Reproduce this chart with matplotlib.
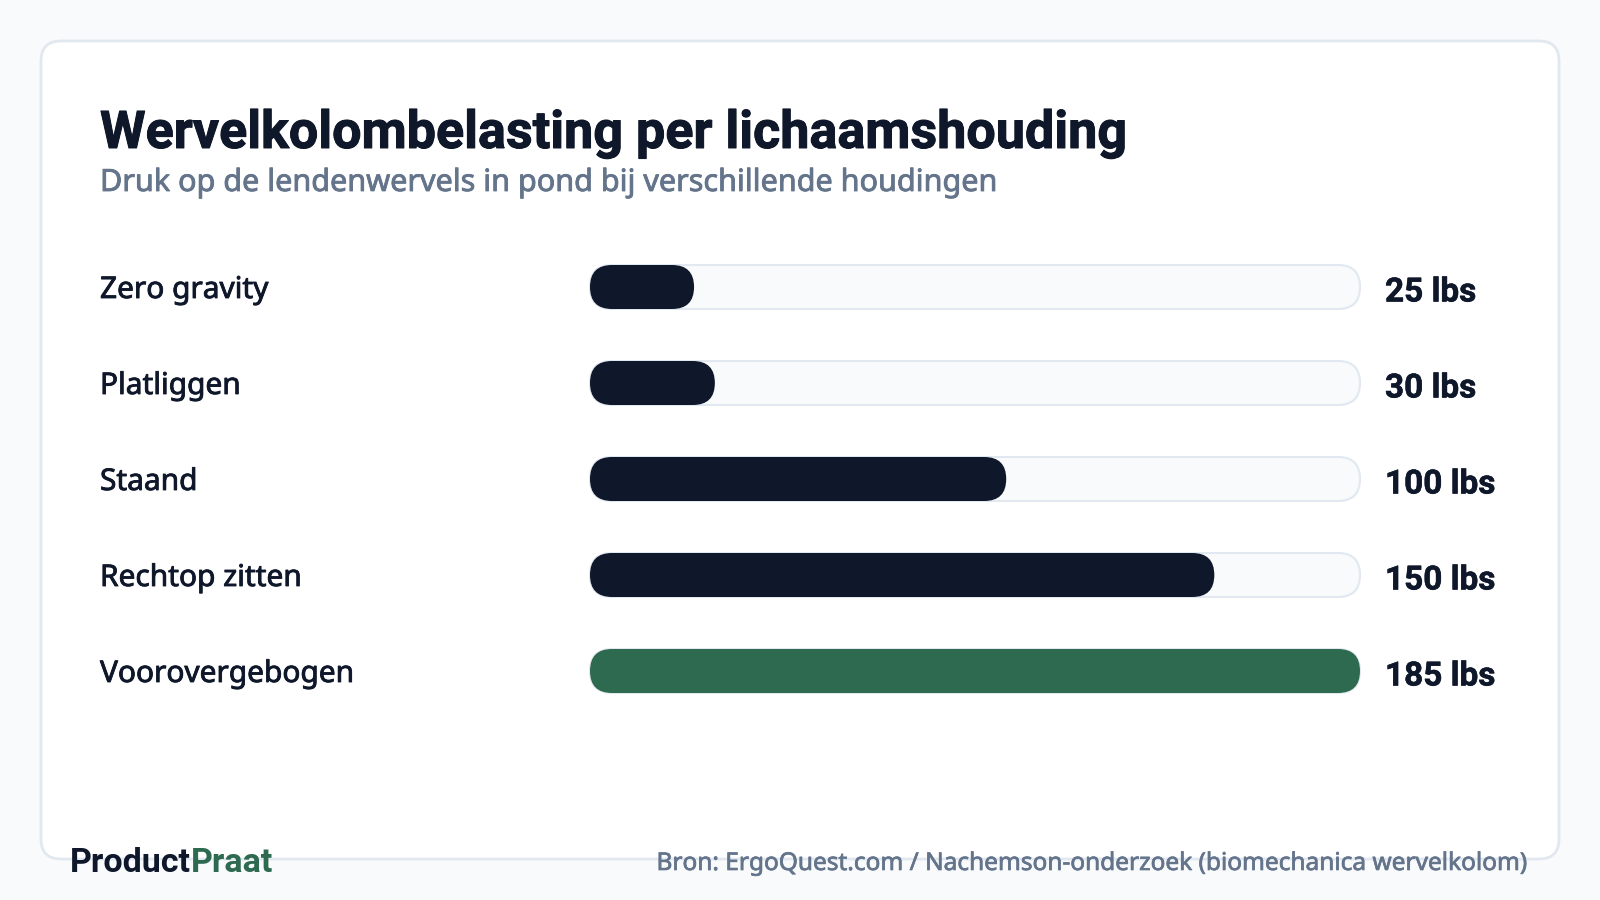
import matplotlib
matplotlib.use("Agg")
import matplotlib.pyplot as plt
from matplotlib.patches import FancyBboxPatch
from matplotlib import transforms
import matplotlib.patheffects as pe

# data
categories = ["Zero gravity", "Platliggen", "Staand", "Rechtop zitten", "Voorovergebogen"]
values = [25, 30, 100, 150, 185]
value_labels = ["25 lbs", "30 lbs", "100 lbs", "150 lbs", "185 lbs"]

title = "Wervelkolombelasting per lichaamshouding"
subtitle = "Druk op de lendenwervels in pond bij verschillende houdingen"
source = "Bron: ErgoQuest.com / Nachemson-onderzoek (biomechanica wervelkolom)"

DARK = "#0f172a"
GREEN = "#2d6a4f"
SLATE = "#64748b"
TRACK = "#f8fafc"
BORDER = "#e2e8f0"


def thick(color, w=0.5):
    # fake a medium weight, Noto Sans here only has regular / bold
    return [pe.withStroke(linewidth=w, foreground=color)]


W, H = 1600, 900
fig = plt.figure(figsize=(16, 9), dpi=100)
fig.patch.set_facecolor("#f8fafc")

# white card
card = FancyBboxPatch((41 / W, 41 / H), 1518 / W, 818 / H,
                      boxstyle="round,pad=0,rounding_size=0.0125",
                      mutation_aspect=W / H, transform=fig.transFigure,
                      facecolor="white", edgecolor=BORDER, linewidth=2, zorder=0)
fig.add_artist(card)

# bar axes
ax_left, ax_top, ax_w, ax_h = 590, 239, 770, 480
ax = fig.add_axes([ax_left / W, 1 - (ax_top + ax_h) / H, ax_w / W, ax_h / H])
ax.set_xlim(0, max(values))
ax.set_ylim(len(values) - 0.5, -0.5)
ax.axis("off")

bar_h = 44 / (ax_h / len(values))
px_x = ax_w / max(values)            # pixels per x unit
px_y = ax_h / len(values)            # pixels per y unit
radius = (bar_h * px_y / 2) / px_x   # in x units
aspect = px_x / px_y

for i, v in enumerate(values):
    track = FancyBboxPatch((0, i - bar_h / 2), max(values), bar_h,
                           boxstyle=f"round,pad=0,rounding_size={radius}",
                           mutation_aspect=aspect, facecolor=TRACK,
                           edgecolor=BORDER, linewidth=1.5, clip_on=False)
    ax.add_patch(track)
    color = GREEN if v == max(values) else DARK
    bar = FancyBboxPatch((0, i - bar_h / 2), v, bar_h,
                         boxstyle=f"round,pad=0,rounding_size={radius}",
                         mutation_aspect=aspect, facecolor=color,
                         edgecolor="none", clip_on=False)
    ax.add_patch(bar)

# labels sit on a baseline a little below the bar centre
lab_tr = transforms.blended_transform_factory(fig.transFigure, ax.transData)
cat_tr = transforms.offset_copy(lab_tr, fig=fig, y=-11, units="dots")
val_tr = transforms.offset_copy(lab_tr, fig=fig, y=-14.5, units="dots")
for i, (c, lab) in enumerate(zip(categories, value_labels)):
    ax.text(100 / W, i, c, transform=cat_tr, ha="left", va="baseline",
            fontsize=21.5, family="Noto Sans", color=DARK,
            path_effects=thick(DARK, 0.6))
    ax.text(1385 / W, i, lab, transform=val_tr, ha="left", va="baseline",
            fontsize=24, family="Roboto", weight="bold", color=DARK,
            path_effects=thick(DARK, 0.4))

# titles
fig.text(100 / W, 1 - 148 / H, title, ha="left", va="baseline",
         fontsize=37.5, family="Roboto", weight="bold", color=DARK,
         path_effects=thick(DARK, 0.7))
fig.text(100 / W, 1 - 191 / H, subtitle, ha="left", va="baseline",
         fontsize=22, family="Noto Sans", color=SLATE,
         path_effects=thick(SLATE, 0.6))

# footer
t1 = fig.text(70 / W, 1 - 872 / H, "Product", ha="left", va="baseline",
              fontsize=24.5, family="Roboto", weight="bold", color=DARK)
ax.annotate("Praat", xy=(1, 0), xycoords=t1, ha="left", va="bottom",
            fontsize=24.5, family="Roboto", weight="bold", color=GREEN,
            annotation_clip=False)
fig.text(1531 / W, 1 - 870 / H, source, ha="right", va="baseline",
         fontsize=17.6, family="Noto Sans", color=SLATE,
         path_effects=thick(SLATE, 0.5))

fig.savefig("out.png", dpi=100, facecolor=fig.get_facecolor())
